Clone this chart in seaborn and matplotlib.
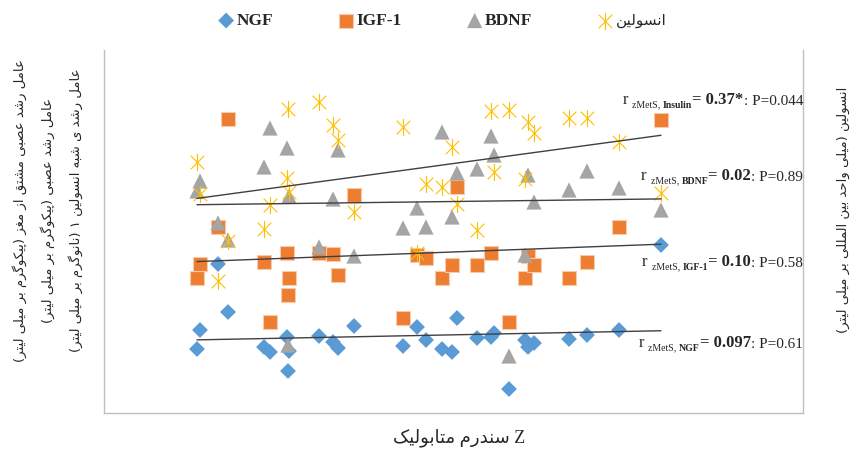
import numpy as np
import pandas as pd
import matplotlib
matplotlib.use("Agg")
import matplotlib.pyplot as plt
from matplotlib.path import Path
import seaborn as sns

# ---------------- data (chart units; no tick labels in source) ----------------
z_mets = [93, 96, 114, 124, 160, 166, 183, 185, 184, 215, 229, 234, 250, 299, 313,
          322, 338, 348, 353, 373, 387, 390, 405, 421, 424, 430, 465, 483, 515, 557]
ngf = [64, 83, 149, 101, 66, 61, 76, 62, 42, 77, 71, 65, 87, 67, 86,
       73, 64, 61, 95, 75, 76, 80, 24, 73, 66, 70, 74, 78, 83, 168]
igf1 = [135, 149, 186, 294, 151, 91, 160, 135, 118, 160, 159, 138, 218, 95, 158,
        155, 135, 148, 226, 148, 160, np.nan, 91, 135, 157, 148, 135, 151, 186, 293]
bdnf = [222, 232, 190, 173, 246, 285, 265, 217, 68, 166, 214, 263, 157, 185, 205,
        186, 281, 196, 240, 244, 277, 258, 57, 158, 238, 211, 223, 242, 225, 203]
insulin = [251, 219, 132, 172, 184, 208, 235, 221, 304, 311, 288, 273, 201, 286, 160,
           229, 226, 266, 209, 183, 302, 241, 303, 234, 291, 280, 295, 295, 271, 220]

series_names = ["NGF", "IGF-1", "BDNF", "انسولین"]
stat_names = ["Insulin", "BDNF", "IGF-1", "NGF"]
stat_r = ["0.37*", "0.02", "0.10", "0.097"]
stat_p = ["0.044", "0.89", "0.58", "0.61"]
stat_y = [308, 232, 146, 65]
x_label = "Z سندرم متابولیک"
y_labels_left = [
    "عامل رشد عصبی مشتق از مغز (پیکوگرم بر میلی لیتر)",
    "عامل رشد عصبی (پیکوگرم بر میلی لیتر)",
    "عامل رشد ی شبه انسولین ۱ (نانوگرم بر میلی لیتر)",
]
y_label_right = "انسولین (میلی واحد بین المللی بر میلی لیتر)"

# ---------------- simple Persian shaping (presentation forms + visual order) ----------------
FORMS = {
    'ا': ('\uFE8D', '\uFE8E', None, None),
    'ب': ('\uFE8F', '\uFE90', '\uFE91', '\uFE92'),
    'پ': ('\uFB56', '\uFB57', '\uFB58', '\uFB59'),
    'ت': ('\uFE95', '\uFE96', '\uFE97', '\uFE98'),
    'ح': ('\uFEA1', '\uFEA2', '\uFEA3', '\uFEA4'),
    'د': ('\uFEA9', '\uFEAA', None, None),
    'ر': ('\uFEAD', '\uFEAE', None, None),
    'ز': ('\uFEAF', '\uFEB0', None, None),
    'س': ('\uFEB1', '\uFEB2', '\uFEB3', '\uFEB4'),
    'ش': ('\uFEB5', '\uFEB6', '\uFEB7', '\uFEB8'),
    'ص': ('\uFEB9', '\uFEBA', '\uFEBB', '\uFEBC'),
    'ع': ('\uFEC9', '\uFECA', '\uFECB', '\uFECC'),
    'غ': ('\uFECD', '\uFECE', '\uFECF', '\uFED0'),
    'ق': ('\uFED5', '\uFED6', '\uFED7', '\uFED8'),
    'ک': ('\uFB8E', '\uFB8F', '\uFB90', '\uFB91'),
    'گ': ('\uFB92', '\uFB93', '\uFB94', '\uFB95'),
    'ل': ('\uFEDD', '\uFEDE', '\uFEDF', '\uFEE0'),
    'م': ('\uFEE1', '\uFEE2', '\uFEE3', '\uFEE4'),
    'ن': ('\uFEE5', '\uFEE6', '\uFEE7', '\uFEE8'),
    'ه': ('\uFEE9', '\uFEEA', '\uFEEB', '\uFEEC'),
    'و': ('\uFEED', '\uFEEE', None, None),
    'ی': ('\uFBFC', '\uFBFD', '\uFBFE', '\uFBFF'),
}


def fa(text):
    if not any(c in FORMS for c in text):
        return text
    out = []
    for i, c in enumerate(text):
        if c not in FORMS:
            out.append(c)
            continue
        prev = text[i - 1] if i > 0 else None
        nxt = text[i + 1] if i + 1 < len(text) else None
        jp = prev in FORMS and FORMS[prev][2] is not None
        jn = FORMS[c][2] is not None and nxt in FORMS
        iso, fin, ini, med = FORMS[c]
        out.append(med if (jp and jn) else fin if jp else ini if jn else iso)
    vis = ''.join(out)[::-1]
    return vis.translate(str.maketrans('()', ')('))


# ---------------- style ----------------
sns.set_style("white")
plt.rcParams['font.family'] = ['Liberation Serif', 'DejaVu Sans']

colors = ["#5B9BD5", "#ED7D31", "#A5A5A5", "#FFC000"]
star = Path([(0, -1), (0, 1), (-0.8, -0.8), (0.8, 0.8), (-0.8, 0.8), (0.8, -0.8)],
            [Path.MOVETO, Path.LINETO, Path.MOVETO, Path.LINETO, Path.MOVETO, Path.LINETO])
markers = ["D", "s", "^", star]
sizes = [65, 110, 120, 150]

fig = plt.figure(figsize=(8.59, 4.51), dpi=100)
ax = fig.add_axes([104 / 859, 1 - 413 / 451, 699 / 859, 363 / 451])

df = pd.DataFrame({"z": z_mets, "NGF": ngf, "IGF-1": igf1, "BDNF": bdnf, "انسولین": insulin})

for name, col, mk, sz in zip(series_names, colors, markers, sizes):
    kw = dict(x="z", y=name, data=df, ax=ax, marker=mk, s=sz, label=fa(name), zorder=3)
    if mk is star:
        kw.update(color=col, edgecolor=col, linewidth=0.8)
    elif mk == "s":
        kw.update(color=col, edgecolor="#F8CBAD", linewidth=0.8)
    else:
        kw.update(color=col, edgecolor="none")
    sns.scatterplot(**kw)

for name in series_names:
    sns.regplot(x="z", y=name, data=df, ax=ax, scatter=False, ci=None,
                color="#404040", line_kws={"lw": 1.0, "zorder": 4})

ax.set_xlim(0, 699)
ax.set_ylim(0, 363)
ax.set_xticks([])
ax.set_yticks([])
ax.set_xlabel("")
ax.set_ylabel("")
for side in ["left", "right", "bottom"]:
    ax.spines[side].set_color("#BFBFBF")
    ax.spines[side].set_linewidth(1.0)
ax.spines["top"].set_visible(False)


def rich_text(ax, x, y, pieces):
    """pieces: list of (text, size, weight, dy_points) left-to-right; right-aligned at x."""
    prev = None
    prev_dy = 0
    for text, size, weight, dy in reversed(pieces):
        if prev is None:
            prev = ax.text(x, y, text, ha="right", va="baseline", fontsize=size,
                           fontweight=weight, zorder=5)
        else:
            prev = ax.annotate(text, xy=(0, 0), xycoords=prev, xytext=(0, dy - prev_dy),
                               textcoords="offset points", ha="right", va="bottom",
                               fontsize=size, fontweight=weight, zorder=5)
        prev_dy = dy


for nm, rv, pv, yv in zip(stat_names, stat_r, stat_p, stat_y):
    rich_text(ax, 699, yv, [
        ("r ", 12, "normal", 0),
        ("zMetS, ", 7, "normal", -1.2),
        (nm, 7, "bold", -1.2),
        ("= " + rv, 12, "bold", 0),
        (": P=" + pv, 11, "normal", 0),
    ])

# legend
leg = ax.legend(loc="center", bbox_to_anchor=(442 / 859, 1 - 21 / 451),
                bbox_transform=fig.transFigure, ncol=4, frameon=False,
                handletextpad=0.1, columnspacing=3.7, handlelength=1.0,
                prop={"family": ["Liberation Serif", "DejaVu Sans"], "weight": "bold", "size": 12.5})
for t in leg.get_texts():
    if t.get_text() == fa("انسولین"):
        t.set_fontweight("normal")
        t.set_fontfamily(["DejaVu Sans"])
        t.set_fontsize(11)

# axis labels
fig.text(459 / 859, 1 - 438 / 451, fa(x_label), ha="center", va="center",
         fontsize=13, family=["Liberation Serif", "DejaVu Sans"])
for xp, yp, lab in zip([20, 48, 76], [210, 210, 210], y_labels_left):
    fig.text(xp / 859, 1 - yp / 451, fa(lab), rotation=90, ha="center", va="center",
             fontsize=9.5, family=["DejaVu Sans"])
fig.text(843 / 859, 1 - 210 / 451, fa(y_label_right), rotation=90, ha="center", va="center",
         fontsize=9.5, family=["DejaVu Sans"])

fig.savefig("out.png", dpi=100)
